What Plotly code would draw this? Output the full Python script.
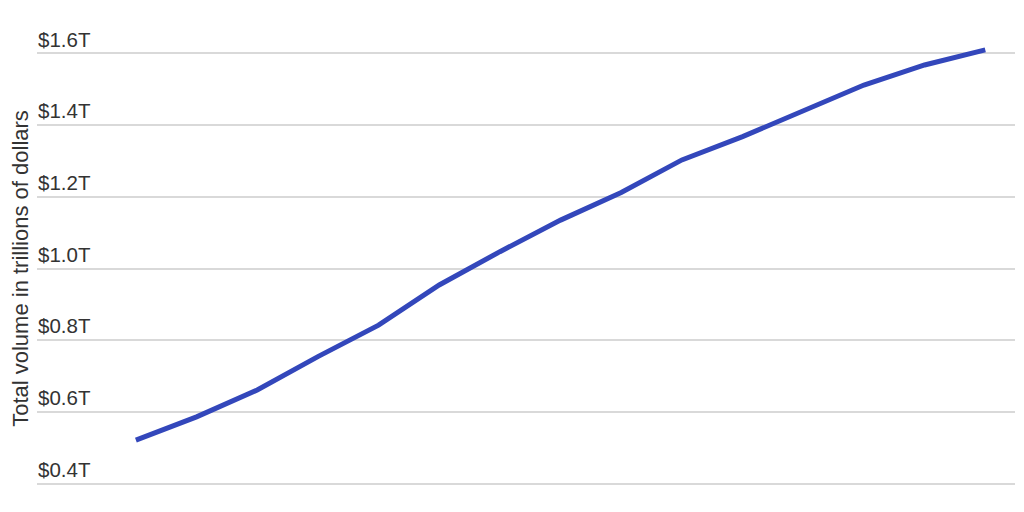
import plotly.graph_objects as go

# yearly totals, trillions of dollars
years = list(range(2009, 2024))
volume = [0.521, 0.586, 0.661, 0.754, 0.842, 0.954, 1.047, 1.135,
          1.212, 1.303, 1.368, 1.440, 1.512, 1.568, 1.610]
y_ticks = [0.4, 0.6, 0.8, 1.0, 1.2, 1.4, 1.6]
y_labels = ["$%.1fT" % v for v in y_ticks]

font = "Liberation Sans, Arial, sans-serif"

fig = go.Figure()
fig.add_trace(go.Scatter(
    x=years, y=volume, mode="lines",
    line=dict(color="#3347bb", width=5),
    hoverinfo="skip",
))

# page body has an 8px margin, so the margins below are offset by 8px
fig.update_layout(
    width=1024, height=512,
    margin=dict(l=29, r=17, t=17, b=8),
    plot_bgcolor="white", paper_bgcolor="white",
    showlegend=False,
    font=dict(family=font, color="#333333"),
)
fig.update_xaxes(
    range=[years[0] - 1.63, years[-1] + 0.49],
    showticklabels=False, showgrid=False, zeroline=False, showline=False,
)
fig.update_yaxes(
    range=[0.3205, 1.6795],
    tickvals=y_ticks, ticktext=y_labels,
    ticklabelposition="inside", ticklabelshift=-14, ticklabelstandoff=-2,
    tickfont=dict(family=font, size=20.5, color="#333333"),
    showgrid=True, gridcolor="#d9d9d9", gridwidth=1.5,
    zeroline=False, showline=False, ticks="", automargin=False,
    title=dict(text="Total volume in trillions of dollars",
               font=dict(family=font, size=22, color="#333333"), standoff=22),
)

fig.write_html("out.html")
